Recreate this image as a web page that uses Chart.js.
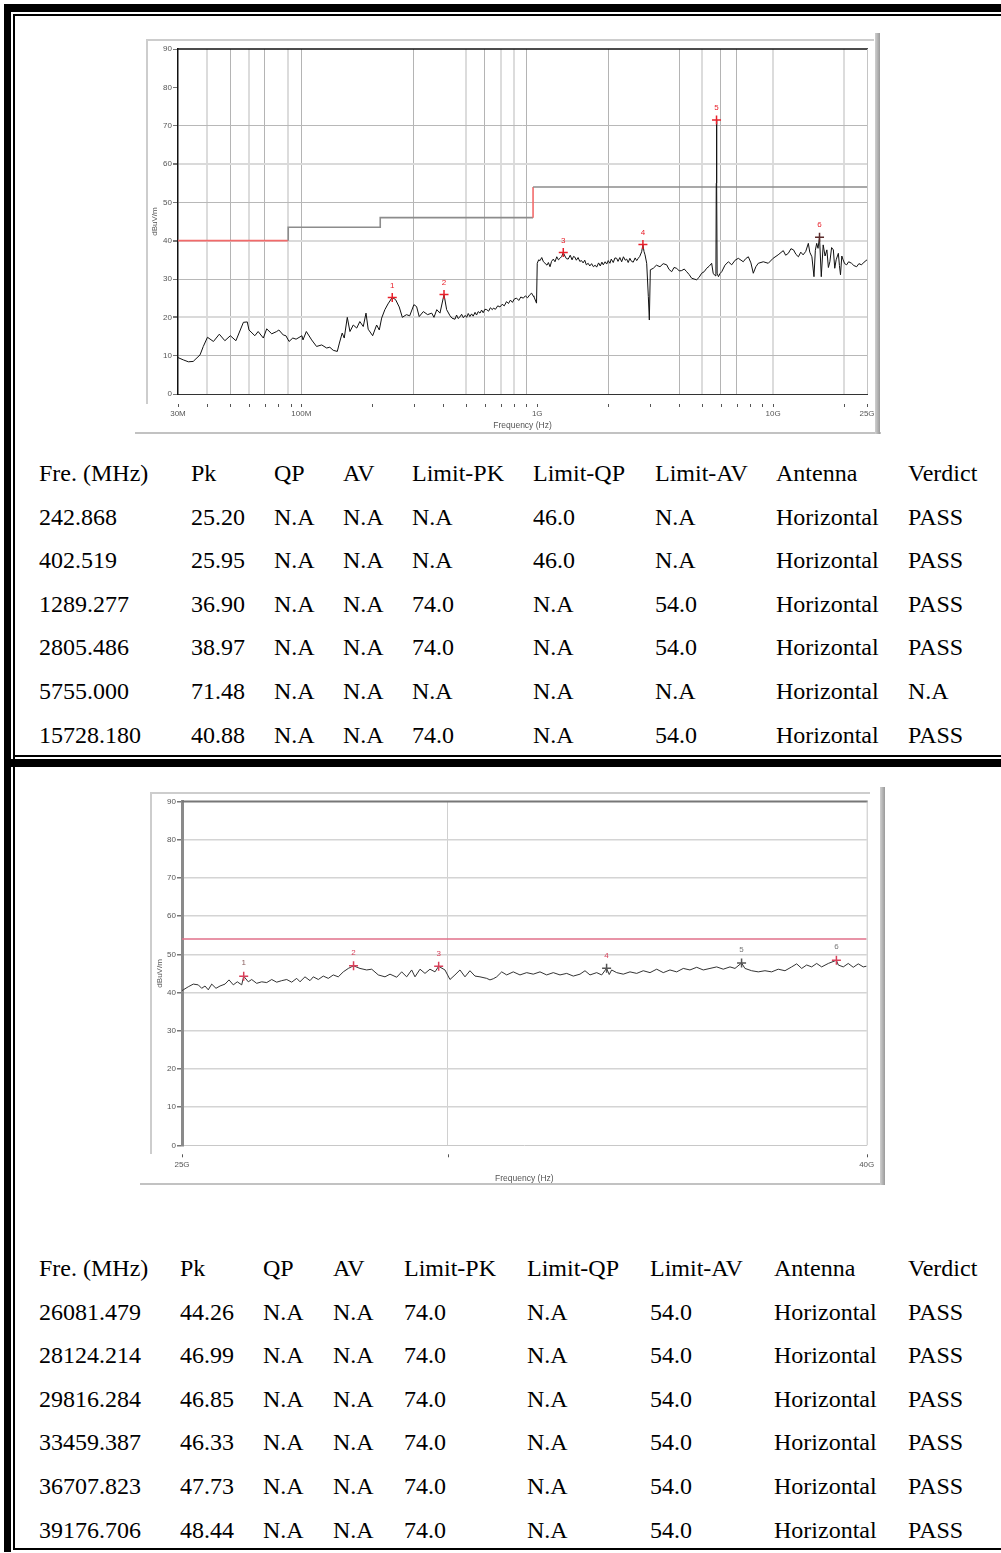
<!DOCTYPE html>
<html>
<head>
<meta charset="utf-8">
<script src="https://cdn.jsdelivr.net/npm/chart.js@4"></script>
<style>
  html, body { margin: 0; padding: 0; background: #fff; }
  body { width: 1001px; height: 1553px; position: relative; overflow: hidden; font-family: "Liberation Serif", "Times New Roman", serif; }
  .bar { position: absolute; background: #000; }
  .frame { position: absolute; background: #cdcdcd; }
  .side { position: absolute; background: linear-gradient(to right, #d0d0d0, #9a9a9a); }
  .cell { position: absolute; font-size: 24px; line-height: 24px; white-space: nowrap; color: #000; }
  .plot { position: absolute; }
</style>
</head>
<body>
<!-- page borders -->
<div class="bar" style="left:4px;top:4px;width:997px;height:8px"></div>
<div class="bar" style="left:13px;top:14px;width:988px;height:2px"></div>
<div class="bar" style="left:4px;top:4px;width:7px;height:1548px"></div>
<div class="bar" style="left:13px;top:14px;width:2px;height:1536px"></div>
<div class="bar" style="left:13px;top:755px;width:988px;height:2px"></div>
<div class="bar" style="left:4px;top:759px;width:997px;height:8px"></div>
<div class="bar" style="left:13px;top:1548px;width:988px;height:2px"></div>

<!-- top chart -->
<div class="plot" style="left:140px;top:40px;width:740px;height:392px"><canvas id="topChart"></canvas></div>
<div class="frame" style="left:147px;top:39px;width:727px;height:2px"></div>
<div class="frame" style="left:146px;top:39px;width:2px;height:365px"></div>
<div class="frame" style="left:135px;top:432px;width:746px;height:2px;background:#c2c2c2"></div>
<div class="side" style="left:875px;top:33px;width:5px;height:401px"></div>

<!-- bottom chart -->
<div class="plot" style="left:145px;top:793px;width:735px;height:392px"><canvas id="bottomChart"></canvas></div>
<div class="frame" style="left:150px;top:792px;width:720px;height:2px"></div>
<div class="frame" style="left:150px;top:792px;width:2px;height:362px"></div>
<div class="frame" style="left:140px;top:1183px;width:741px;height:2px;background:#c2c2c2"></div>
<div class="side" style="left:880px;top:787px;width:5px;height:398px"></div>

<div id="tables"></div>

<script>
// ---------- top chart data (30 MHz - 25 GHz), frequency in MHz ----------
const topFreqs = [30, 31.6, 33.2, 34.8, 37.2, 38.4, 40, 42.4, 44.9, 47.4, 50, 52.8, 56.8, 59, 60, 63.5, 65.6, 69, 71.3, 74.9,
  78.6, 80.3, 83.8, 86, 88.7, 92, 95, 100.6, 101.6, 105, 110.6, 116, 122, 128, 132, 136.5, 142, 145, 149, 152,
  156.6, 160.7, 166, 171.7, 177, 183, 188, 192, 200.6, 208.5, 214, 219, 226, 233, 242.868, 251, 260, 268, 279, 288,
  300, 308, 316, 329, 343, 357, 365, 375, 387, 402.519, 413, 427, 435, 448, 455, 462, 470, 478, 486, 495,
  502, 510, 518, 527, 535, 545, 553, 562, 572, 581, 590, 600, 611, 622, 633, 645, 652, 665, 680, 695,
  710, 725, 741, 755, 770, 785, 800, 818, 835, 852, 873, 890, 910, 930, 947, 960, 968, 993, 1000, 1014,
  1028, 1045, 1062, 1079, 1100, 1115, 1133, 1150, 1170, 1189, 1210, 1230, 1249, 1270, 1289.277, 1310, 1330, 1353, 1380, 1405,
  1425, 1444, 1465, 1490, 1515, 1541, 1565, 1590, 1615, 1644, 1670, 1700, 1730, 1760, 1786, 1820, 1850, 1880, 1905, 1940,
  1970, 2000, 2033, 2060, 2100, 2135, 2171, 2200, 2240, 2280, 2320, 2360, 2394, 2430, 2470, 2510, 2553, 2600, 2640, 2680,
  2720, 2771, 2805.486, 2835, 2864, 2911, 2958, 2987, 3016, 3105, 3200, 3314, 3420, 3538, 3620, 3715, 3800, 3900, 4000, 4096,
  4200, 4300, 4400, 4515, 4620, 4741, 4850, 4978, 5100, 5228, 5350, 5488, 5570, 5650, 5720, 5740, 5755, 5770, 5790, 5865,
  5950, 6056, 6250, 6460, 6674, 6900, 7120, 7470, 7650, 7850, 8050, 8240, 8450, 8650, 9085, 9535, 10000, 10500, 11040, 11300,
  11600, 11900, 12200, 12500, 12800, 13100, 13400, 13750, 14100, 14300, 14600, 14900, 15100, 15300, 15500, 15728.18, 16000, 16300, 16600, 16900,
  17150, 17400, 17700, 18000, 18250, 18500, 18900, 19100, 19300, 19550, 19800, 20100, 20500, 20900, 21500, 22000, 22600, 23100, 23700, 24300,
  25000]
const topLevels = [9.5, 8.9, 8.4, 8.5, 10.2, 12.4, 14.8, 13.7, 15.6, 13.9, 15.2, 13.9, 18.7, 18.8, 16.7, 15.2, 16.3, 14.6, 17.0, 15.7,
  16.3, 16.7, 15.4, 15.2, 13.7, 14.6, 14.3, 15.2, 14.1, 16.3, 14.1, 12.4, 12.8, 12.0, 12.2, 11.4, 11.1, 13.3, 15.9, 14.6,
  20.0, 16.3, 18.0, 17.2, 18.9, 17.6, 21.1, 16.9, 15.2, 18.0, 16.7, 19.8, 22.0, 23.5, 25.2, 24.6, 22.7, 20.0, 20.7, 20.4,
  23.3, 22.8, 20.2, 21.5, 20.7, 21.1, 20.0, 22.0, 21.1, 25.95, 22.0, 20.4, 19.8, 19.5, 20.6, 19.7, 20.1, 20.8, 19.9, 20.5,
  20.0, 21.0, 20.2, 20.9, 20.3, 21.3, 20.6, 21.5, 21.1, 21.9, 21.2, 22.1, 22.0, 21.6, 22.5, 22.0, 22.4, 22.1, 23.0, 22.7,
  23.4, 23.0, 24.1, 23.6, 24.5, 23.9, 24.8, 25.0, 24.4, 25.3, 25.0, 25.6, 25.1, 25.9, 26.3, 25.6, 25.4, 23.7, 34.1, 35.0,
  34.8, 35.6, 34.5, 34.1, 33.6, 34.3, 33.2, 34.6, 35.2, 34.5, 35.8, 35.0, 35.4, 35.9, 36.9, 36.0, 35.3, 35.2, 36.2, 35.0,
  35.9, 35.7, 34.9, 35.6, 34.6, 34.8, 34.2, 34.9, 33.7, 34.1, 33.4, 34.0, 33.2, 33.6, 33.1, 34.2, 33.4, 34.4, 33.7, 34.5,
  33.9, 34.8, 34.1, 35.2, 34.3, 35.5, 35.4, 34.6, 35.6, 34.5, 35.8, 34.9, 35.2, 34.3, 35.4, 34.6, 34.4, 35.5, 34.8, 35.4,
  35.9, 37.1, 38.97, 37.2, 36.3, 34.1, 25.4, 19.3, 32.4, 32.8, 33.6, 33.2, 34.0, 33.7, 32.5, 31.9, 33.0, 32.8, 32.1, 32.2,
  32.6, 31.9, 31.2, 30.2, 30.0, 29.8, 30.4, 31.5, 31.9, 32.8, 33.3, 34.1, 31.5, 31.0, 30.8, 55.0, 71.48, 55.0, 31.5, 30.6,
  31.4, 31.9, 33.6, 34.5, 33.7, 34.9, 35.4, 34.5, 35.3, 35.8, 34.2, 31.5, 33.2, 34.1, 34.5, 34.1, 35.4, 36.3, 37.4, 36.2,
  36.7, 37.9, 37.6, 36.4, 35.8, 37.0, 36.3, 37.2, 39.3, 37.0, 35.8, 30.6, 37.5, 39.3, 38.0, 40.88, 30.6, 38.9, 36.0, 37.6,
  33.0, 34.5, 38.2, 37.6, 32.8, 35.0, 36.7, 33.5, 31.1, 36.0, 35.0, 34.0, 33.7, 34.5, 34.1, 33.5, 33.2, 34.0, 33.7, 34.4,
  35.0]

const topLimitFreqs = [30, 88, 88, 216, 216, 960, 960, 25000]
const topLimitLevels = [40, 40, 43.5, 43.5, 46, 46, 54, 54]

const topMarkerFreqs = [242.868, 402.519, 1289.277, 2805.486, 5755.0, 15728.18]
const topMarkerLevels = [25.20, 25.95, 36.90, 38.97, 71.48, 40.88]
const topMarkerNames = ["1", "2", "3", "4", "5", "6"]

const topTickFreqs = [30, 40, 50, 60, 70, 80, 90, 100, 200, 300, 400, 500, 600, 700, 800, 900,
  1000, 2000, 3000, 4000, 5000, 6000, 7000, 8000, 9000, 10000, 20000, 25000]
const topLabelFreqs = [30, 100, 1000, 10000, 25000]
const topLabelTexts = ["30M", "100M", "1G", "10G", "25G"]
const topGridThin = [50, 70, 100, 300, 600, 900, 2000, 4000, 6000, 7000]
const topGridWide = [40, 60, 88, 500, 700, 800, 5000, 10000, 20000]

// ---------- bottom chart data (25 GHz - 40 GHz), frequency in MHz ----------
const bottomFreqs = [25000, 25022, 25108, 25195, 25281, 25340, 25398, 25455, 25515, 25590, 25661, 25749, 25820, 25896, 25967, 26046, 26081.479, 26164, 26225, 26315,
  26406, 26497, 26588, 26679, 26771, 26863, 26955, 27048, 27109, 27202, 27296, 27358, 27452, 27546, 27641, 27736, 27831, 27927, 28023, 28124.214,
  28249, 28379, 28477, 28606, 28738, 28837, 28970, 29069, 29169, 29269, 29336, 29437, 29538, 29639, 29741, 29816.284, 29946, 30049, 30152, 30256,
  30360, 30464, 30569, 30674, 30816, 30885, 30956, 31028, 31135, 31242, 31383, 31528, 31673, 31817, 31964, 32111, 32257, 32406, 32555, 32703,
  32854, 32967, 33080, 33232, 33347, 33459.387, 33520, 33576, 33692, 33845, 34001, 34158, 34313, 34471, 34630, 34787, 34947, 35108, 35268, 35430,
  35594, 35755, 35920, 36086, 36249, 36417, 36542, 36707.823, 36793, 36963, 37131, 37302, 37474, 37644, 37818, 37992, 38123, 38254, 38385, 38517,
  38650, 38782, 38959, 39176.706, 39227, 39362, 39497, 39633, 39769, 39906, 40000]
const bottomLevels = [40.5, 40.7, 41.5, 42.2, 42.0, 41.1, 41.7, 40.7, 42.2, 41.1, 41.7, 42.2, 43.3, 42.0, 42.8, 42.0, 44.26, 42.8, 43.4, 42.4,
  42.8, 42.6, 43.4, 42.7, 43.1, 43.4, 42.7, 43.7, 42.8, 44.1, 43.1, 44.1, 43.4, 44.3, 43.7, 44.6, 44.1, 45.4, 46.3, 46.99,
  46.3, 45.9, 46.1, 44.6, 44.1, 44.8, 44.0, 45.4, 44.1, 45.9, 44.1, 46.1, 45.0, 46.1, 45.4, 46.85, 45.9, 43.4, 44.6, 45.9,
  44.1, 45.7, 44.3, 44.1, 43.7, 43.3, 43.6, 44.1, 45.4, 44.6, 45.4, 44.6, 45.2, 44.8, 45.4, 44.6, 45.2, 44.6, 45.0, 44.3,
  44.8, 45.7, 44.6, 45.2, 44.6, 46.33, 44.7, 45.9, 45.2, 44.8, 45.4, 45.0, 45.7, 45.2, 46.1, 45.2, 45.9, 45.4, 46.3, 45.9,
  46.6, 45.9, 46.3, 46.7, 46.1, 46.7, 46.3, 47.73, 46.3, 45.7, 45.4, 45.7, 45.4, 46.1, 45.7, 46.7, 47.5, 46.3, 47.2, 46.7,
  47.6, 46.7, 47.6, 48.44, 47.2, 46.7, 47.6, 46.6, 47.5, 46.7, 46.9]

const bottomLimitFreqs = [25000, 40000]
const bottomLimitLevels = [54, 54]

const bottomMarkerFreqs = [26081.479, 28124.214, 29816.284, 33459.387, 36707.823, 39176.706]
const bottomMarkerLevels = [44.26, 46.99, 46.85, 46.33, 47.73, 48.44]
const bottomMarkerNames = ["1", "2", "3", "4", "5", "6"]

const bottomTickFreqs = [25000, 30000, 40000]
const bottomLabelFreqs = [25000, 40000]
const bottomLabelTexts = ["25G", "40G"]

const levelTicks = [0, 10, 20, 30, 40, 50, 60, 70, 80, 90]

// ---------- tables ----------
const tableHeader = ["Fre. (MHz)", "Pk", "QP", "AV", "Limit-PK", "Limit-QP", "Limit-AV", "Antenna", "Verdict"]
const topRows = [
  ["242.868", "25.20", "N.A", "N.A", "N.A", "46.0", "N.A", "Horizontal", "PASS"],
  ["402.519", "25.95", "N.A", "N.A", "N.A", "46.0", "N.A", "Horizontal", "PASS"],
  ["1289.277", "36.90", "N.A", "N.A", "74.0", "N.A", "54.0", "Horizontal", "PASS"],
  ["2805.486", "38.97", "N.A", "N.A", "74.0", "N.A", "54.0", "Horizontal", "PASS"],
  ["5755.000", "71.48", "N.A", "N.A", "N.A", "N.A", "N.A", "Horizontal", "N.A"],
  ["15728.180", "40.88", "N.A", "N.A", "74.0", "N.A", "54.0", "Horizontal", "PASS"],
]
const bottomRows = [
  ["26081.479", "44.26", "N.A", "N.A", "74.0", "N.A", "54.0", "Horizontal", "PASS"],
  ["28124.214", "46.99", "N.A", "N.A", "74.0", "N.A", "54.0", "Horizontal", "PASS"],
  ["29816.284", "46.85", "N.A", "N.A", "74.0", "N.A", "54.0", "Horizontal", "PASS"],
  ["33459.387", "46.33", "N.A", "N.A", "74.0", "N.A", "54.0", "Horizontal", "PASS"],
  ["36707.823", "47.73", "N.A", "N.A", "74.0", "N.A", "54.0", "Horizontal", "PASS"],
  ["39176.706", "48.44", "N.A", "N.A", "74.0", "N.A", "54.0", "Horizontal", "PASS"],
]

function buildTable(header, rows, colLeft, top) {
  const host = document.getElementById("tables")
  const all = [header].concat(rows)
  all.forEach((row, r) => {
    row.forEach((txt, c) => {
      const d = document.createElement("div")
      d.className = "cell"
      d.style.left = colLeft[c] + "px"
      d.style.top = (top + r * 43.6) + "px"
      d.textContent = txt
      host.appendChild(d)
    })
  })
}
buildTable(tableHeader, topRows, [39, 191, 274, 343, 412, 533, 655, 776, 908], 461)
buildTable(tableHeader, bottomRows, [39, 180, 263, 333, 404, 527, 650, 774, 908], 1256)

// ---------- charts ----------
const axisFont = { family: "'Liberation Sans', Arial, sans-serif", size: 8 }

const points = (xs, ys) => xs.map((x, i) => ({ x: x, y: ys[i] }))

// small tick marks under the x axis, marker numbers, frame lines
const decorPlugin = {
  id: "decor",
  afterDatasetsDraw(chart, args, opts) {
    const ctx = chart.ctx
    const area = chart.chartArea
    const xs = chart.scales.x
    ctx.save()
    // plot frame top / right
    ctx.strokeStyle = opts.topColor
    ctx.lineWidth = opts.topWidth
    ctx.beginPath()
    ctx.moveTo(area.left, area.top)
    ctx.lineTo(area.right + 1, area.top)
    ctx.stroke()
    ctx.strokeStyle = opts.rightColor
    ctx.lineWidth = 1
    ctx.beginPath()
    ctx.moveTo(area.right + 0.5, area.top)
    ctx.lineTo(area.right + 0.5, area.bottom)
    ctx.stroke()
    // tick marks
    ctx.strokeStyle = opts.markColor
    ctx.lineWidth = 1
    opts.markValues.forEach((v) => {
      const px = Math.round(xs.getPixelForValue(v)) + 0.5
      ctx.beginPath()
      ctx.moveTo(px, area.bottom + opts.markTop)
      ctx.lineTo(px, area.bottom + opts.markTop + 3)
      ctx.stroke()
    })
    // marker numbers
    const meta = chart.getDatasetMeta(0)
    ctx.font = "8px 'Liberation Sans', Arial, sans-serif"
    ctx.textAlign = "center"
    ctx.textBaseline = "middle"
    meta.data.forEach((el, i) => {
      ctx.fillStyle = opts.labelColors[i]
      ctx.fillText(opts.names[i], el.x, el.y - opts.labelGap)
    })
    ctx.restore()
  },
}

function makeChart(id, o) {
  return new Chart(document.getElementById(id), {
    type: "line",
    data: {
      datasets: [
        {
          data: points(o.markerFreqs, o.markerLevels),
          showLine: false,
          pointStyle: "cross",
          pointRadius: 4.5,
          pointBorderWidth: 1.5,
          pointBorderColor: o.markerColors,
          pointBackgroundColor: o.markerColors,
        },
        {
          data: points(o.freqs, o.levels),
          borderColor: o.traceColor,
          borderWidth: 1,
          pointRadius: 0,
          tension: 0,
        },
        {
          data: points(o.limitFreqs, o.limitLevels),
          borderColor: o.limitColor,
          borderWidth: 1.6,
          pointRadius: 0,
          segment: { borderColor: o.limitSegment },
        },
      ],
    },
    options: {
      responsive: true,
      maintainAspectRatio: false,
      animation: false,
      layout: { padding: o.padding },
      plugins: {
        legend: { display: false },
        tooltip: { enabled: false },
        decor: {
          markValues: o.tickFreqs,
          markTop: o.markTop,
          markColor: "#555",
          names: o.markerNames,
          labelColors: o.labelColors,
          labelGap: o.labelGap,
          topColor: o.topColor,
          topWidth: o.topWidth,
          rightColor: "#c4c4c4",
        },
      },
      scales: {
        x: {
          type: "logarithmic",
          min: o.xMin,
          max: o.xMax,
          afterBuildTicks: (s) => {
            s.ticks = o.tickFreqs.concat(o.extraGrid).sort((a, b) => a - b).map((v) => ({ value: v }))
          },
          afterFit: (s) => {
            s.height = o.xHeight
            s.paddingLeft = 0
            s.paddingRight = 0
          },
          border: { display: true, color: o.xBorder, width: 1 },
          grid: {
            drawTicks: false,
            color: o.gridColor,
            lineWidth: o.gridWidth,
          },
          ticks: {
            autoSkip: false,
            maxRotation: 0,
            padding: o.xPad,
            color: "#555",
            font: axisFont,
            callback: (v) => {
              const k = o.labelFreqs.indexOf(v)
              return k >= 0 ? o.labelTexts[k] : ""
            },
          },
          title: {
            display: true,
            text: "Frequency (Hz)",
            color: "#555",
            font: { family: axisFont.family, size: 8.5 },
            padding: { top: 0, bottom: 1 },
          },
        },
        y: {
          min: 0,
          max: 90,
          afterBuildTicks: (s) => { s.ticks = levelTicks.map((v) => ({ value: v })) },
          afterFit: (s) => {
            s.width = o.yWidth
            s.paddingTop = 0
            s.paddingBottom = 0
          },
          border: { display: true, color: o.yBorder, width: o.yBorderWidth },
          grid: {
            color: o.yGridColor,
            lineWidth: o.yGridWidth,
            tickLength: 5,
            tickColor: "#777",
          },
          ticks: { padding: 1, color: "#555", font: axisFont },
          title: {
            display: true,
            text: "dBuV/m",
            color: "#555",
            font: { family: axisFont.family, size: 8 },
            padding: { top: 10, bottom: 0 },
          },
        },
      },
    },
    plugins: [decorPlugin],
  })
}

makeChart("topChart", {
  freqs: topFreqs, levels: topLevels,
  limitFreqs: topLimitFreqs, limitLevels: topLimitLevels,
  markerFreqs: topMarkerFreqs, markerLevels: topMarkerLevels, markerNames: topMarkerNames,
  markerColors: ["#e8202a", "#e8202a", "#e8202a", "#e8202a", "#e8202a", "#5a2a2a"],
  labelColors: ["#e8202a", "#e8202a", "#e8202a", "#e8202a", "#e8202a", "#e8202a"],
  labelGap: 12,
  traceColor: "#111",
  limitColor: "#8c8c8c",
  limitSegment: (ctx) => (ctx.p0DataIndex === 0 || ctx.p0DataIndex === 5 ? "#f26a6a" : "#8c8c8c"),
  tickFreqs: topTickFreqs, extraGrid: [88],
  labelFreqs: topLabelFreqs, labelTexts: topLabelTexts,
  xMin: 30, xMax: 25000,
  padding: { left: 0, top: 9, right: 13, bottom: 0 },
  xHeight: 38, yWidth: 38, xPad: 15, markTop: 10,
  xBorder: "#333", yBorder: "#111", yBorderWidth: 1.5,
  topColor: "#111", topWidth: 1.5,
  gridColor: (c) => {
    const v = c.tick && c.tick.value
    if (topGridThin.indexOf(v) >= 0) return "#b4b4b4"
    if (topGridWide.indexOf(v) >= 0) return "#dcdcdc"
    return "rgba(0,0,0,0)"
  },
  gridWidth: (c) => (c.tick && topGridWide.indexOf(c.tick.value) >= 0 ? 2 : 1),
  yGridColor: (c) => {
    const v = c.tick && c.tick.value
    if (v === 20 || v === 40 || v === 60) return "#dadada"
    if (v === 10 || v === 30 || v === 50 || v === 70) return "#b8b8b8"
    return "rgba(0,0,0,0)"
  },
  yGridWidth: (c) => (c.tick && (c.tick.value === 20 || c.tick.value === 40 || c.tick.value === 60) ? 2 : 1),
})

makeChart("bottomChart", {
  freqs: bottomFreqs, levels: bottomLevels,
  limitFreqs: bottomLimitFreqs, limitLevels: bottomLimitLevels,
  markerFreqs: bottomMarkerFreqs, markerLevels: bottomMarkerLevels, markerNames: bottomMarkerNames,
  markerColors: ["#d8405a", "#d8405a", "#d8405a", "#555", "#555", "#d8405a"],
  labelColors: ["#8a6060", "#d8405a", "#d8405a", "#d8405a", "#777", "#777"],
  labelGap: 13,
  traceColor: "#333",
  limitColor: "#e0708a",
  limitSegment: () => "#e0708a",
  tickFreqs: bottomTickFreqs, extraGrid: [],
  labelFreqs: bottomLabelFreqs, labelTexts: bottomLabelTexts,
  xMin: 25000, xMax: 40000,
  padding: { left: 0, top: 8.5, right: 13.3, bottom: 0 },
  xHeight: 39.7, yWidth: 37, xPad: 15, markTop: 9,
  xBorder: "#c8c8c8", yBorder: "#8a8a8a", yBorderWidth: 3,
  topColor: "#777", topWidth: 2,
  gridColor: (c) => (c.tick && c.tick.value === 30000 ? "#d0d0d0" : "rgba(0,0,0,0)"),
  gridWidth: 1,
  yGridColor: (c) => {
    const v = c.tick && c.tick.value
    return v > 0 && v < 90 ? "#d4d4d4" : "rgba(0,0,0,0)"
  },
  yGridWidth: 1.5,
})
</script>
</body>
</html>
